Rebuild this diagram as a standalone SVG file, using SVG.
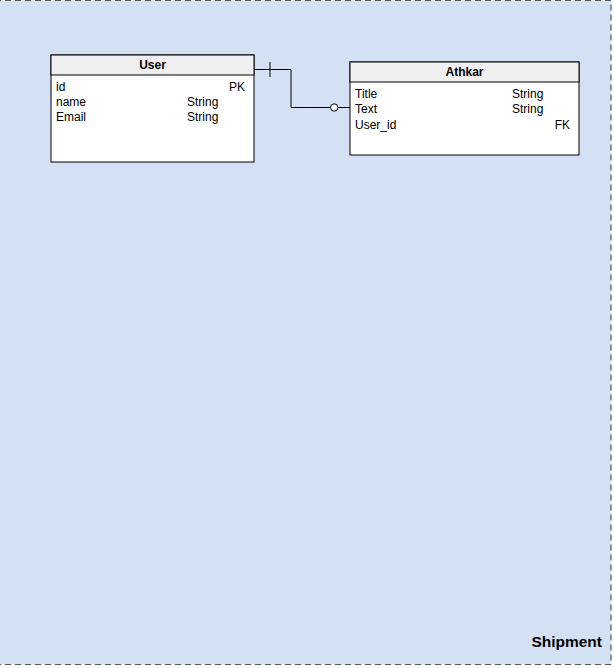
<svg xmlns="http://www.w3.org/2000/svg" width="614" height="668" viewBox="0 0 614 668">
<style>
text{font-family:"Liberation Sans",Arial,sans-serif;font-size:12px;fill:#000}
.h{font-weight:bold;text-anchor:middle}
.r{text-anchor:end}
.tbl{fill:#fff;stroke:#000;stroke-width:1}
.hdr{fill:#f0f0f0;stroke:#000;stroke-width:1}
.ln{fill:none;stroke:#000;stroke-width:1}
</style>
<g id="shipment">
<rect x="-5" y="0.5" width="616" height="664" fill="#d4e1f5" stroke="#555" stroke-width="1.2" stroke-dasharray="6 4"/>
<text x="602" y="647" class="r" style="font-weight:bold;font-size:15.5px">Shipment</text>
</g>
<g id="user">
<rect class="tbl" x="51" y="55" width="203" height="107"/>
<rect class="hdr" x="51" y="55" width="203" height="20"/>
<text x="152.5" y="69" class="h">User</text>
<text x="56" y="91">id</text><text x="245" y="91" class="r">PK</text>
<text x="56" y="106">name</text><text x="187" y="106">String</text>
<text x="56" y="121">Email</text><text x="187" y="121">String</text>
</g>
<g id="athkar">
<rect class="tbl" x="350" y="62" width="229" height="93"/>
<rect class="hdr" x="350" y="62" width="229" height="20"/>
<text x="464.5" y="76" class="h">Athkar</text>
<text x="355" y="98">Title</text><text x="512" y="98">String</text>
<text x="355" y="113">Text</text><text x="512" y="113">String</text>
<text x="355" y="129">User_id</text><text x="570" y="129" class="r">FK</text>
</g>
<g id="connectors">
<path class="ln" d="M254 69.5H291V107.5H330.5M338 107.5H350"/>
<path class="ln" d="M270 62V77"/>
<circle cx="334.2" cy="107.5" r="3.7" fill="#fff" stroke="#000"/>
</g>
</svg>
